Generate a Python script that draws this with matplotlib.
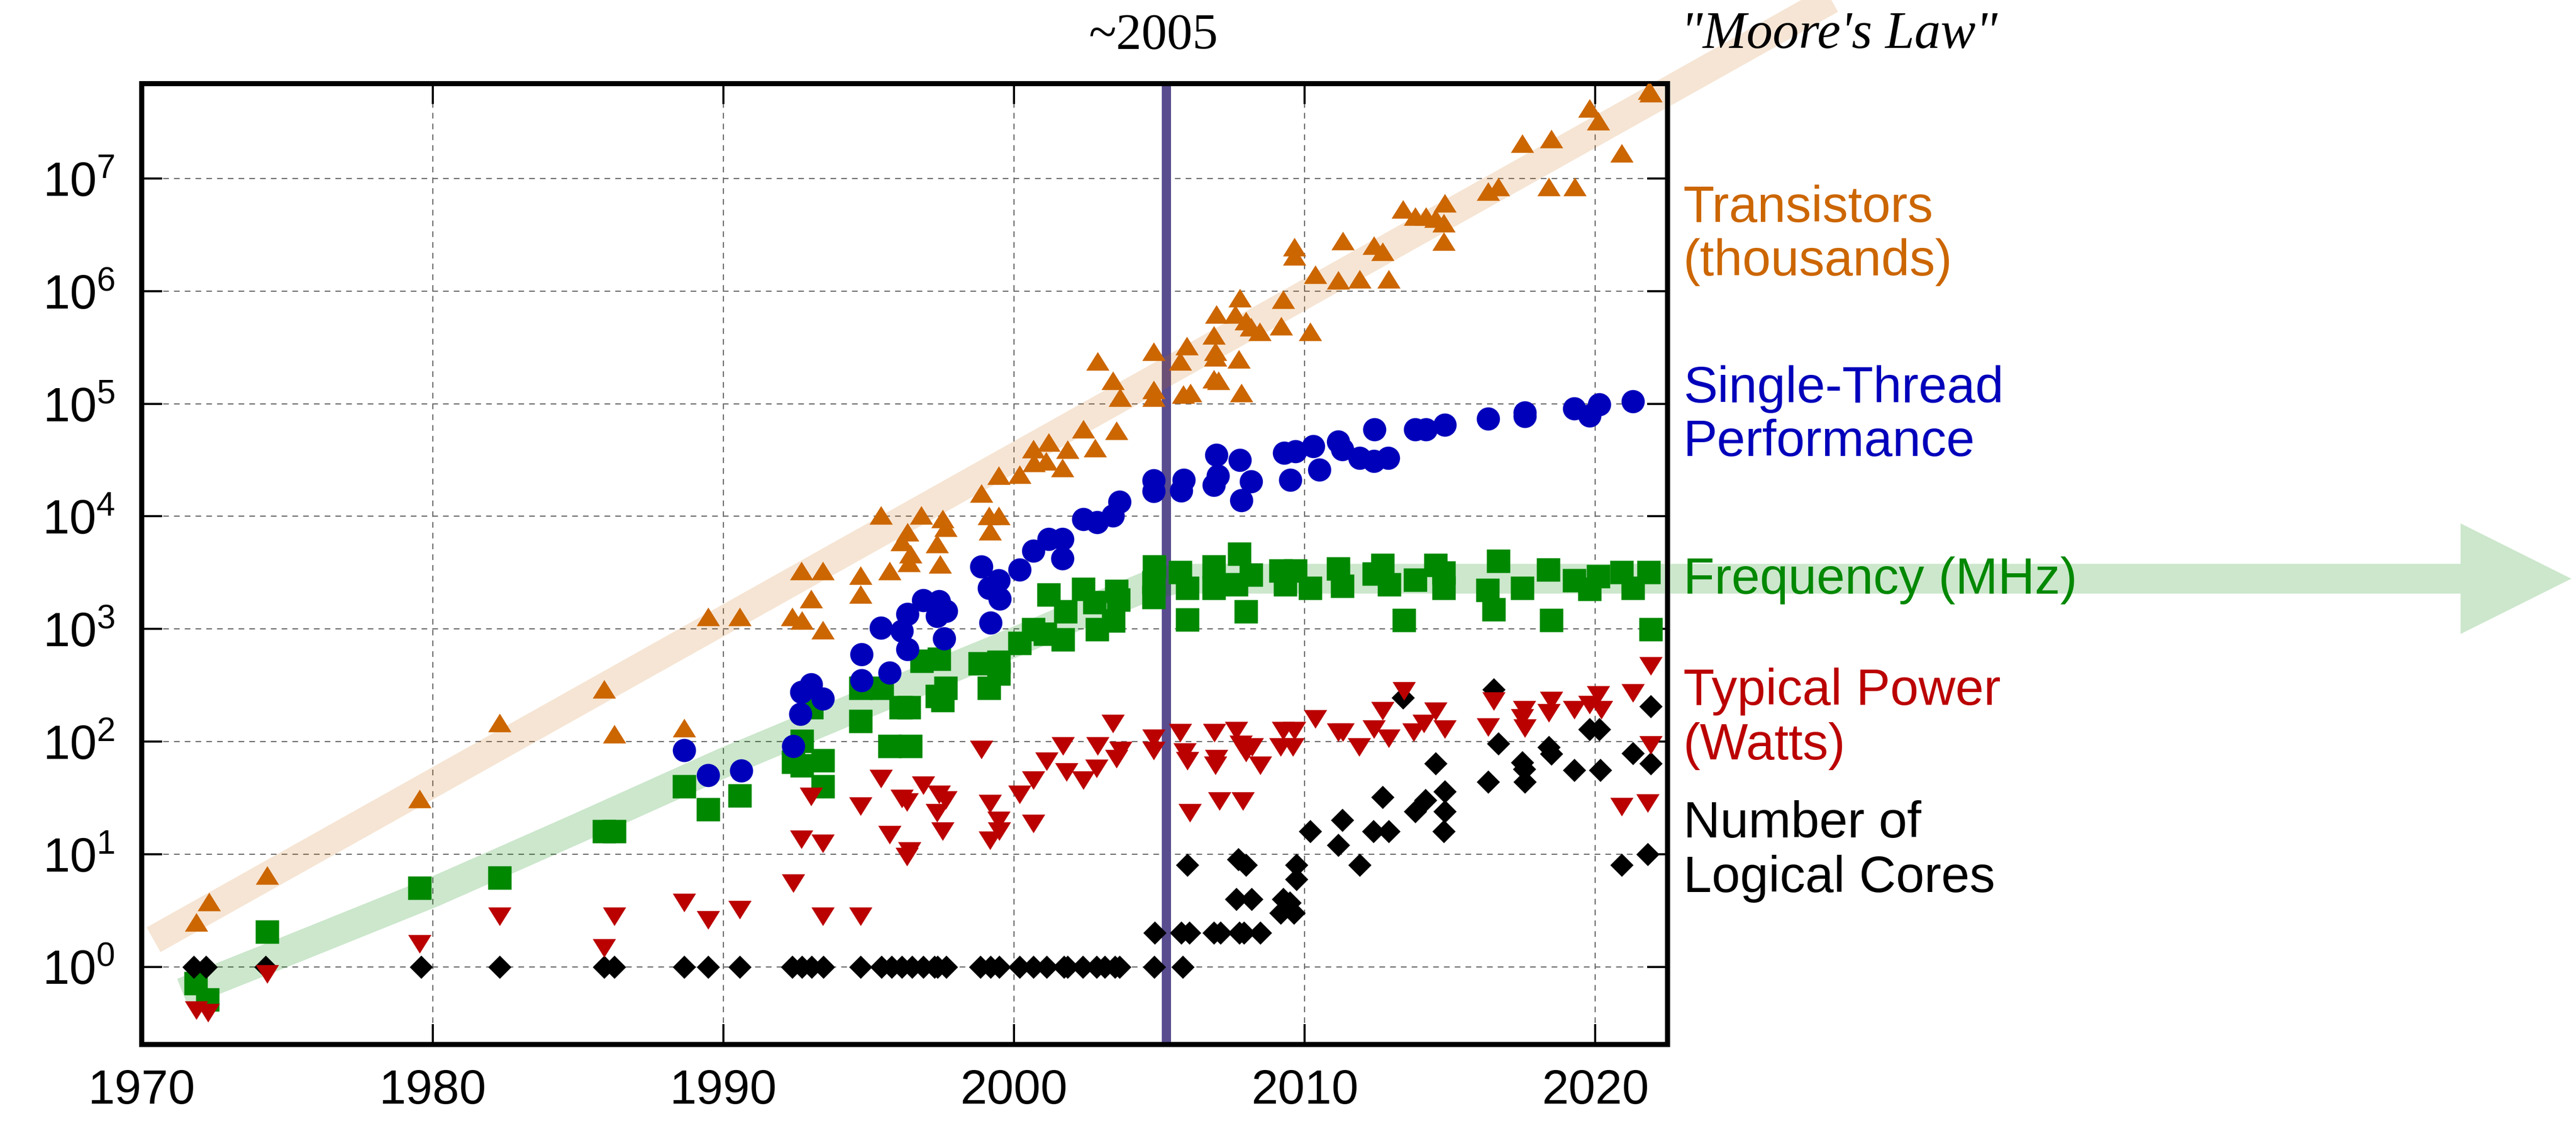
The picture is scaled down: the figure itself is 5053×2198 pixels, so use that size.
import numpy as np
import matplotlib
matplotlib.use("Agg")
import matplotlib.pyplot as plt
from matplotlib.patches import Polygon
from matplotlib.ticker import NullLocator

plt.rcParams["font.family"] = ["Liberation Sans", "DejaVu Sans"]
plt.rcParams["mathtext.fontset"] = "custom"
plt.rcParams["mathtext.rm"] = "Liberation Sans"
plt.rcParams["mathtext.it"] = "Liberation Sans:italic"

# ---- data ----
tr_year = [1971.87, 1972.30, 1974.31, 1979.55, 1982.30, 1985.90, 1986.25, 1988.66, 1989.47, 1990.57,
           1992.38, 1992.70, 1992.69, 1993.02, 1993.42, 1993.42, 1994.72, 1994.72, 1995.73, 1995.42,
           1996.34, 1996.14, 1996.44, 1996.38, 1996.81, 1997.55, 1997.65, 1997.35, 1997.45, 1998.88,
           1999.14, 1999.47, 1999.18, 1999.47, 2000.19, 2000.66, 2000.69, 2001.19, 2001.10, 2001.84,
           2001.67, 2002.39, 2002.79, 2003.52, 2002.88, 2003.40, 2003.65, 2004.80, 2004.80, 2004.80,
           2005.72, 2005.95, 2005.83, 2006.07, 2006.87, 2006.93, 2006.93, 2006.96, 2006.87, 2007.04,
           2007.73, 2007.83, 2007.77, 2007.61, 2007.98, 2008.16, 2008.45, 2009.19, 2009.27, 2009.65,
           2009.65, 2010.19, 2010.37, 2011.15, 2011.32, 2011.89, 2012.39, 2012.68, 2012.89, 2013.38,
           2013.80, 2014.17, 2014.50, 2014.83, 2014.79, 2014.79, 2016.32, 2016.67, 2017.49, 2018.49,
           2018.40, 2019.29, 2019.80, 2020.10, 2020.90, 2021.86, 2021.90]
tr_val = [2.5, 3.8, 6.5, 31, 147, 293, 117, 132, 1290, 1290,
          1290, 1200, 3300, 1860, 3300, 980, 2990, 2040, 3300, 10300,
          7260, 5970, 4630, 3890, 10300, 9530, 7980, 5710, 3780, 16100,
          10100, 10100, 7450, 23100, 23700, 39700, 30100, 45400, 31000, 39400,
          27000, 59600, 40700, 57700, 2.38e5, 1.61e5, 1.14e5, 2.92e5, 1.33e5, 1.14e5,
          2.39e5, 3.28e5, 1.21e5, 1.25e5, 4.06e5, 2.92e5, 2.61e5, 6.25e5, 1.66e5, 1.61e5,
          2.50e5, 1.25e5, 8.67e5, 6.25e5, 5.45e5, 4.80e5, 4.36e5, 4.91e5, 8.41e5, 2.46e6,
          2.04e6, 4.36e5, 1.40e6, 1.25e6, 2.79e6, 1.28e6, 2.54e6, 2.24e6, 1.28e6, 5.36e6,
          4.63e6, 4.63e6, 4.43e6, 6.08e6, 4.03e6, 2.76e6, 7.67e6, 8.49e6, 2.05e7, 2.26e7,
          8.49e6, 8.49e6, 4.23e7, 3.24e7, 1.69e7, 6.05e7, 5.79e7]

st_year = [1988.66, 1989.47, 1990.62, 1992.41, 1992.65, 1992.68, 1993.02, 1993.42, 1994.76, 1994.76,
           1995.73, 1995.43, 1996.15, 1996.34, 1996.34, 1996.88, 1997.43, 1997.67, 1997.35, 1997.59,
           1998.88, 1999.47, 1999.14, 1999.51, 1999.19, 2000.19, 2000.66, 2001.19, 2001.66, 2001.66,
           2002.39, 2002.86, 2003.40, 2003.63, 2004.80, 2004.80, 2005.85, 2005.75, 2006.96, 2007.01,
           2006.87, 2007.77, 2008.16, 2007.83, 2009.30, 2009.69, 2009.51, 2010.30, 2010.51, 2011.15,
           2011.30, 2011.89, 2012.39, 2012.88, 2012.40, 2013.80, 2014.17, 2014.82, 2016.32, 2017.58,
           2017.58, 2019.28, 2019.80, 2020.14, 2021.29]
st_val = [84, 50, 55, 91, 176, 274, 321, 240, 592, 349,
          407, 1026, 957, 1361, 659, 1791, 1762, 1445, 1300, 822,
          3556, 2704, 2301, 1845, 1140, 3373, 4943, 6281, 6281, 4217,
          9462, 8892, 10093, 13397, 20840, 16710, 21130, 16830, 34990, 22910,
          18970, 31480, 20320, 13930, 36640, 37580, 20990, 41780, 25880, 45920,
          39260, 32890, 30900, 32890, 59160, 59160, 59160, 65010, 73790, 83750,
          77090, 90990, 78700, 98200, 104500]

fq_year = [1971.85, 1972.26, 1974.31, 1979.55, 1982.30, 1985.90, 1986.25, 1988.66, 1989.47, 1990.57,
           1992.41, 1992.70, 1992.70, 1993.03, 1993.42, 1993.42, 1994.72, 1994.72, 1995.46, 1995.73,
           1996.44, 1996.11, 1996.38, 1996.83, 1997.43, 1997.35, 1997.65, 1997.55, 1998.82, 1999.47,
           1999.14, 1999.47, 2000.19, 2000.66, 2001.19, 2001.07, 2001.68, 2001.78, 2002.39, 2002.78,
           2002.86, 2003.52, 2003.60, 2003.42, 2004.83, 2004.80, 2004.80, 2005.72, 2005.96, 2005.96,
           2006.87, 2006.87, 2007.75, 2007.65, 2007.98, 2008.16, 2009.18, 2009.69, 2009.33, 2010.19,
           2011.15, 2011.30, 2012.68, 2012.39, 2012.91, 2013.41, 2013.80, 2014.50, 2014.79, 2014.79,
           2016.67, 2016.30, 2016.50, 2017.49, 2018.39, 2018.49, 2019.28, 2019.80, 2020.10, 2020.90,
           2021.29, 2021.84, 2021.90]
fq_val = [0.71, 0.51, 2.04, 5.0, 6.15, 16, 16, 40, 25, 33,
          66, 101, 61, 200, 68, 40, 298, 152, 298, 91,
          91, 200, 200, 520, 541, 252, 298, 233, 493, 508,
          300, 401, 745, 995, 2009, 902, 804, 1426, 2254, 1726,
          995, 2168, 1820, 1178, 3589, 2582, 1905, 3177, 2301, 1205,
          3589, 2301, 4656, 2489, 1435, 3013, 3273, 3273, 2489, 2301,
          3428, 2393, 3698, 3083, 2489, 1194, 2723, 3698, 3148, 2301,
          3990, 2218, 1489, 2301, 3373, 1194, 2685, 2270, 2944, 3177,
          2301, 3177, 995]

pw_year = [1971.87, 1972.28, 1974.31, 1979.55, 1982.30, 1986.25, 1985.90, 1988.66, 1989.47, 1990.57,
           1992.41, 1992.69, 1993.42, 1993.02, 1993.42, 1994.72, 1994.72, 1995.42, 1995.73, 1996.15,
           1996.32, 1996.40, 1996.32, 1996.88, 1997.43, 1997.65, 1997.35, 1997.55, 1998.88, 1999.18,
           1999.47, 1999.49, 1999.18, 2000.19, 2000.66, 2000.66, 2001.13, 2001.68, 2001.81, 2002.39,
           2002.87, 2002.84, 2003.40, 2003.66, 2003.52, 2004.80, 2004.80, 2005.72, 2005.87, 2005.96,
           2006.89, 2006.96, 2006.93, 2006.06, 2007.07, 2007.88, 2007.65, 2007.81, 2007.98, 2008.19,
           2008.48, 2009.18, 2009.27, 2009.65, 2009.60, 2010.37, 2011.15, 2011.32, 2011.88, 2012.68,
           2012.39, 2012.89, 2013.41, 2013.76, 2014.11, 2014.50, 2014.82, 2016.32, 2016.50, 2017.55,
           2017.49, 2017.58, 2018.49, 2018.40, 2019.28, 2019.80, 2020.10, 2020.20, 2021.29, 2020.90,
           2021.81, 2021.90, 2021.90]
pw_val = [0.41, 0.39, 0.86, 1.6, 2.8, 2.8, 1.46, 3.7, 2.6, 3.2,
          5.5, 13.5, 12.4, 32.5, 2.8, 2.8, 26.5, 46.6, 14.9, 31,
          28.8, 10.6, 9.5, 40.6, 33.8, 30.1, 23.1, 16, 84.5, 27.9,
          19.8, 16, 13.2, 33.8, 45.2, 18.6, 66.7, 91.2, 53.5, 45.2,
          91.2, 57.7, 144, 82.6, 69.8, 106, 82.6, 119, 80.2, 67.1,
          119, 69.8, 61.4, 23.2, 29.4, 29.4, 124, 94, 79.4, 89.1,
          61.4, 89.1, 124, 124, 89.1, 158, 121, 121, 89.1, 187,
          129, 106, 280, 121, 144, 185, 129, 134, 228, 191,
          162, 131, 231, 179, 191, 211, 259, 191, 270, 26.3,
          28.4, 93.3, 468]

co_year = [1971.79, 1972.20, 1974.26, 1979.60, 1982.30, 1985.90, 1986.25, 1988.66, 1989.47, 1990.57,
           1992.38, 1992.71, 1993.03, 1993.44, 1994.72, 1995.44, 1995.79, 1996.14, 1996.49, 1996.88,
           1997.26, 1997.37, 1997.67, 1998.84, 1999.19, 1999.49, 2000.19, 2000.66, 2001.13, 2001.72,
           2001.84, 2002.37, 2002.84, 2003.13, 2003.48, 2003.63, 2004.83, 2005.81,
           2004.84, 2005.75, 2006.04, 2006.87, 2007.10, 2007.75, 2007.92, 2008.48,
           2005.96, 2007.72, 2007.98, 2007.65, 2008.18, 2009.27, 2009.18, 2009.63, 2009.49, 2009.71,
           2009.71, 2010.19, 2011.15, 2011.30, 2011.89, 2012.36, 2012.68, 2012.89, 2013.38, 2013.80,
           2014.15, 2014.50, 2014.82, 2014.82, 2014.79, 2016.50, 2016.67, 2016.32, 2017.49, 2017.55,
           2017.58, 2018.40, 2018.49, 2019.28, 2019.80, 2020.14, 2020.17, 2021.29, 2021.90, 2021.90,
           2020.90, 2021.80]
co_val = [1, 1, 1, 1, 1, 1, 1, 1, 1, 1,
          1, 1, 1, 1, 1, 1, 1, 1, 1, 1,
          1, 1, 1, 1, 1, 1, 1, 1, 1, 1,
          1, 1, 1, 1, 1, 1, 1, 1,
          2, 2, 2, 2, 2, 2, 2, 2,
          8, 9, 8, 4, 4, 4, 3, 3, 3.7, 8,
          6, 16, 12, 20, 8, 16, 32, 16, 244, 24,
          30, 64, 36, 24, 16, 291, 96, 44, 65, 57,
          44, 89, 78, 56, 128, 128, 56, 79, 205, 64,
          8, 10]

# trend bands
moore_year = [1970.4, 2029.5]
moore_val = [10 ** 0.24, 10 ** 8.79]
freq_band_year = [1971.4, 1975, 1980, 1985, 1990, 1995, 2000, 2003, 2004.6, 2005.6, 2049.77]
freq_band_val = [10 ** v for v in [-0.23, 0.14, 0.66, 1.23, 1.81, 2.35, 2.88, 3.21, 3.38, 3.446, 3.446]]

ORANGE, BLUE, GREEN, RED, BLACK = "#cc6600", "#0000bb", "#008800", "#bb0000", "#000000"

fig = plt.figure(figsize=(25.265, 10.99), dpi=200)
ax = fig.add_axes([0.05510, 0.06847, 0.59228, 0.85682])
ax.set_yscale("log")
ax.set_xlim(1970, 2022.49)
ax.set_ylim(10 ** -0.688, 10 ** 7.841)

ax.set_xticks([1970, 1980, 1990, 2000, 2010, 2020])
ax.set_yticks([10 ** k for k in range(8)])
ax.set_yticklabels([r"$10^{%d}$" % k for k in range(8)])
ax.yaxis.set_minor_locator(NullLocator())
ax.tick_params(direction="in", length=14.4, width=1.5, top=True, right=True, labelsize=34)
ax.tick_params(axis="x", pad=17)
ax.tick_params(axis="y", pad=19)
for s in ax.spines.values():
    s.set_linewidth(3.6)
ax.set_axisbelow(True)
ax.grid(True, color="0.4", lw=0.8, linestyle=(0, (5, 4.5)))

ax.axvline(2005.24, color="#594c8f", lw=6.5, zorder=1.5)

# bands
ax.plot(moore_year, moore_val, color=ORANGE, alpha=0.17, lw=20, solid_capstyle="butt",
        clip_on=False, zorder=1.8)
ax.plot(freq_band_year, freq_band_val, color=GREEN, alpha=0.2, lw=21, solid_capstyle="butt",
        solid_joinstyle="round", clip_on=False, zorder=1.8)
yc = 3.446
head = Polygon([(2049.77, 10 ** (yc + 0.491)), (2053.58, 10 ** yc), (2049.77, 10 ** (yc - 0.491))],
               closed=True, facecolor=GREEN, alpha=0.2, edgecolor="none", clip_on=False, zorder=1.8)
ax.add_patch(head)

tri_up = [(-1, -0.8), (1, -0.8), (0, 0.8)]
tri_dn = [(-1, 0.8), (1, 0.8), (0, -0.8)]
diamond = [(0, 1), (1, 0), (0, -1), (-1, 0)]
ms = 16.4
kw = dict(ls="none", ms=ms, mec="none")
ax.plot(fq_year, fq_val, marker="s", mfc=GREEN, zorder=3, **kw)
ax.plot(co_year, co_val, marker=diamond, mfc=BLACK, zorder=3.1, **kw)
ax.plot(pw_year, pw_val, marker=tri_dn, mfc=RED, zorder=3.2, **kw)
ax.plot(st_year, st_val, marker="o", mfc=BLUE, zorder=3.3, **kw)
ax.plot(tr_year, tr_val, marker=tri_up, mfc=ORANGE, zorder=3.4, **kw)

# annotations
W, H = 5053.0, 2198.0
fig.text(2262 / W, 1 - 95 / H, "~2005", family=["Liberation Serif", "DejaVu Serif"], fontsize=36,
         ha="center", va="baseline")
fig.text(3297 / W, 1 - 94 / H, "\"Moore's Law\"", family=["Liberation Serif", "DejaVu Serif"],
         style="italic", fontsize=37, va="baseline")

labels = [("Transistors", 435, ORANGE), ("(thousands)", 540, ORANGE),
          ("Single-Thread", 789, BLUE), ("Performance", 894, BLUE),
          ("Frequency (MHz)", 1164, GREEN),
          ("Typical Power", 1382, RED), ("(Watts)", 1489, RED),
          ("Number of", 1642, BLACK), ("Logical Cores", 1749, BLACK)]
for txt, ypx, col in labels:
    fig.text(3302 / W, 1 - ypx / H, txt, color=col, fontsize=36, va="baseline", zorder=5)

fig.savefig("out.png", dpi=200)
